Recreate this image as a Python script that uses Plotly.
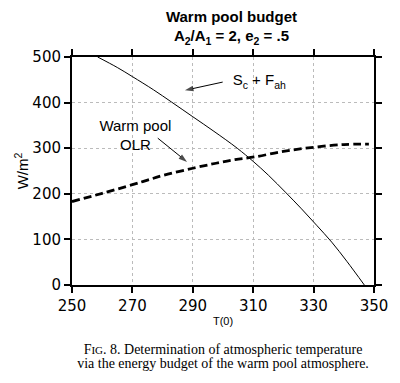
import plotly.graph_objects as go

# Data
T_sc = [258.5, 265, 270, 277, 283, 290, 297, 304.7, 310, 315, 320.9, 326, 331, 336, 341, 346.8]
sc_fah = [500, 477, 457, 428, 401, 369, 337, 300, 271, 241, 202, 167, 131, 94, 52, 0]
T_olr = [250, 260, 270, 275, 280, 290, 297.7, 304, 310.6, 320, 330, 340, 348.3]
olr = [183, 201, 220, 230, 240, 256, 267, 275, 281, 293, 302, 308, 309]

x_range = [250, 350]
y_range = [0, 500]

# label / arrow anchors (data units)
sc_label_xy = (312, 446)
olr_label_xy = (271, 325)
sc_arrow_x = [299.9, 287.4]
sc_arrow_y = [445, 427]
olr_arrow_x = [278.4, 288.1]
olr_arrow_y = [322, 270]

sans = "Liberation Sans"
serif_big = "font-family:Liberation Serif;font-size:14px"
serif_small = "font-family:Liberation Serif;font-size:11px"
tickfont = dict(family="DejaVu Sans", size=15, color="black")

x_title = ("T(0)<br> <br>"
           f"<span style='{serif_big}'>F</span><span style='{serif_small}'>IG</span>"
           f"<span style='{serif_big}'>. 8. Determination of atmospheric temperature</span><br>"
           f"<span style='{serif_big}'>via the energy budget of the warm pool atmosphere.</span>")

fig = go.Figure()
fig.add_trace(go.Scatter(x=T_sc, y=sc_fah, mode="lines", hoverinfo="skip",
                         line=dict(color="black", width=1, shape="spline", smoothing=1), showlegend=False))
fig.add_trace(go.Scatter(x=T_olr, y=olr, mode="lines", hoverinfo="skip",
                         line=dict(color="black", width=2.8, dash="8px,4px", shape="spline", smoothing=1), showlegend=False))

# arrows
for ax_, ay_ in [(sc_arrow_x, sc_arrow_y), (olr_arrow_x, olr_arrow_y)]:
    fig.add_trace(go.Scatter(x=ax_, y=ay_, mode="lines+markers", hoverinfo="skip", showlegend=False,
                             line=dict(color="black", width=1),
                             marker=dict(symbol=["circle", "arrow"], size=[0, 9], color="black",
                                         angleref="previous", line=dict(width=0))))

# curve labels
fig.add_trace(go.Scatter(x=[sc_label_xy[0]], y=[sc_label_xy[1]], mode="text", hoverinfo="skip", showlegend=False,
                         text=["S<sub>c</sub> + F<sub>ah</sub>"], textposition="middle center",
                         textfont=dict(family=sans, size=15, color="black")))
fig.add_trace(go.Scatter(x=[olr_label_xy[0]], y=[olr_label_xy[1]], mode="text", hoverinfo="skip", showlegend=False,
                         text=["Warm pool<br>OLR"], textposition="middle center",
                         textfont=dict(family=sans, size=15, color="black")))

fig.update_layout(
    width=392, height=375,
    margin=dict(l=64, r=18, t=49, b=98),
    paper_bgcolor="white", plot_bgcolor="white",
    title=dict(text="<b>Warm pool budget</b><br><b>A<sub>2</sub>/A<sub>1</sub> = 2, e<sub>2</sub> = .5</b>",
               x=0.57, xanchor="center", y=0.963, yanchor="top", yref="container",
               font=dict(family=sans, size=15, color="black")),
    xaxis=dict(range=x_range, tickmode="linear", tick0=250, dtick=20, ticks="outside", ticklen=6, tickwidth=2,
               tickcolor="black", showline=True, linewidth=2, linecolor="black", mirror="allticks",
               showgrid=True, gridcolor="#bbbbbb", griddash="dot", gridwidth=1,
               zeroline=False, tickfont=tickfont, automargin=True,
               title=dict(text=x_title, standoff=2, font=dict(family=sans, size=11, color="black"))),
    yaxis=dict(range=y_range, tickmode="linear", tick0=0, dtick=100, ticks="outside", ticklen=6, tickwidth=2,
               tickcolor="black", showline=True, linewidth=2, linecolor="black", mirror="allticks",
               showgrid=True, gridcolor="#bbbbbb", griddash="dot", gridwidth=1,
               zeroline=False, tickfont=tickfont, automargin=True,
               title=dict(text="W/m<sup>2</sup>", standoff=0, font=dict(family=sans, size=15, color="black"))),
)

fig.write_html("out.html")
